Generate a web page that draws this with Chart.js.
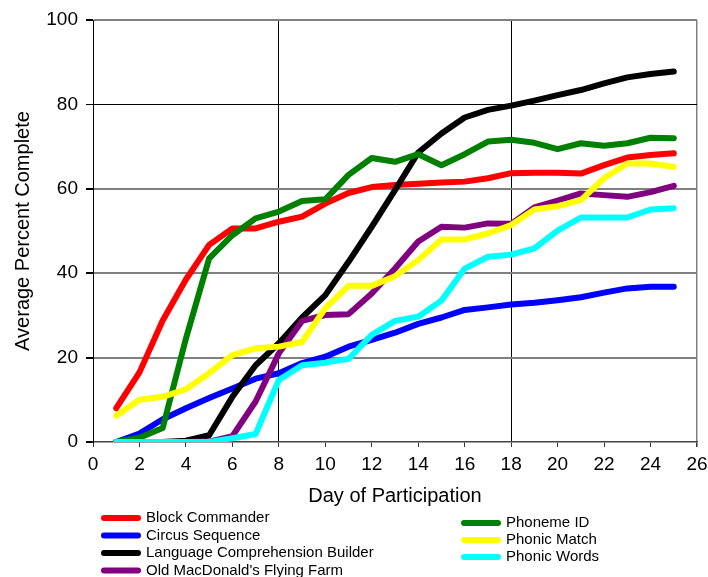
<!DOCTYPE html>
<html>
<head>
<meta charset="utf-8">
<script src="https://cdn.jsdelivr.net/npm/chart.js@4/dist/chart.umd.min.js"></script>
<style>
  html, body { margin: 0; padding: 0; background: #fff; }
  #wrap { width: 708px; height: 577px; position: relative; }
</style>
</head>
<body>
<div id="wrap"><canvas id="c" width="708" height="577"></canvas></div>
<script>
const days = [1,2,3,4,5,6,7,8,9,10,11,12,13,14,15,16,17,18,19,20,21,22,23,24,25];
const xTicks = [0,2,4,6,8,10,12,14,16,18,20,22,24,26];
const yTicks = [0,20,40,60,80,100];

const seriesNames = ["Block Commander","Circus Sequence","Language Comprehension Builder","Old MacDonald's Flying Farm","Phoneme ID","Phonic Match","Phonic Words"];
const seriesColors = ["#FF0000","#0000FF","#000000","#800080","#008000","#FFFF00","#00FFFF"];

const blockCommander = [8, 16.5, 28.8, 38.5, 46.7, 50.6, 50.6, 52.2, 53.4, 56.5, 59, 60.4, 60.9, 61.2, 61.5, 61.7, 62.5, 63.7, 63.8, 63.8, 63.6, 65.6, 67.4, 68, 68.4];
const circusSequence = [0, 2, 5.4, 8, 10.4, 12.7, 15, 16.3, 18.7, 20.2, 22.6, 24.2, 25.9, 28, 29.5, 31.3, 31.9, 32.6, 33, 33.6, 34.3, 35.4, 36.4, 36.8, 36.8];
const languageComp = [0, 0, 0, 0.3, 1.6, 10.7, 18.2, 23.4, 29.5, 34.8, 42.7, 51, 59.7, 68.6, 73.1, 76.9, 78.7, 79.7, 80.9, 82.2, 83.4, 85, 86.4, 87.2, 87.8];
const oldMacDonald = [0, 0, 0, 0, 0.1, 1.4, 9.6, 21, 28.7, 30.1, 30.3, 35.2, 41.1, 47.5, 51, 50.8, 51.8, 51.7, 55.6, 57.2, 58.9, 58.5, 58.1, 59.2, 60.7];
const phonemeID = [0, 1, 3.3, 24.5, 43.5, 49, 53, 54.6, 57.1, 57.5, 63.3, 67.3, 66.4, 68.2, 65.6, 68.2, 71.2, 71.6, 70.9, 69.4, 70.8, 70.2, 70.8, 72.1, 72];
const phonicMatch = [6.2, 10, 10.7, 12.5, 16.3, 20.6, 22.2, 22.6, 23.7, 31.7, 37, 37, 39.3, 43.1, 48, 48, 49.4, 51.4, 55.1, 55.9, 57.3, 62.5, 66, 66, 65.2];
const phonicWords = [0, 0, 0, 0, 0, 0.9, 1.9, 14.7, 18.2, 18.8, 19.7, 25.4, 28.7, 29.7, 33.5, 41.1, 43.9, 44.4, 45.9, 50.1, 53.2, 53.2, 53.2, 55.1, 55.4];

const allSeries = [blockCommander, circusSequence, languageComp, oldMacDonald, phonemeID, phonicMatch, phonicWords];

const FONT = "'Liberation Sans', Arial, sans-serif";

const datasets = allSeries.map((vals, i) => ({
  label: seriesNames[i],
  data: days.map((d, k) => ({x: d, y: vals[k]})),
  borderColor: seriesColors[i],
  backgroundColor: seriesColors[i],
  borderWidth: 6,
  pointRadius: 0,
  tension: 0,
  fill: false,
  borderCapStyle: 'round',
  borderJoinStyle: 'round',
  order: allSeries.length - i
}));

const legendPlugin = {
  id: 'customLegend',
  afterDraw(chart) {
    const ctx = chart.ctx;
    ctx.save();
    ctx.font = "15px " + FONT;
    ctx.textBaseline = 'middle';
    ctx.textAlign = 'left';
    const leftRows = [518, 535.5, 553, 570.5];
    const rightRows = [523, 540, 557];
    chart.data.datasets.forEach((ds, i) => {
      let lx, tx, y;
      if (i < 4) { lx = 101; tx = 146; y = leftRows[i]; }
      else { lx = 461; tx = 506; y = rightRows[i - 4]; }
      ctx.strokeStyle = ds.borderColor;
      ctx.lineWidth = 6;
      ctx.lineCap = 'round';
      ctx.beginPath();
      ctx.moveTo(lx + 3, y);
      ctx.lineTo(lx + 37, y);
      ctx.stroke();
      ctx.fillStyle = '#000';
      ctx.fillText(ds.label, tx, y);
    });
    ctx.restore();
  }
};

new Chart(document.getElementById('c'), {
  type: 'line',
  data: { datasets },
  plugins: [legendPlugin],
  options: {
    responsive: false,
    animation: false,
    events: [],
    layout: { padding: { left: 0, top: 20, right: 11, bottom: 69 } },
    plugins: { legend: { display: false }, tooltip: { enabled: false } },
    scales: {
      x: {
        type: 'linear',
        min: 0, max: 26,
        afterBuildTicks(scale) { scale.ticks = xTicks.map(v => ({value: v})); },
        afterFit(scale) { scale.height = 66; scale.paddingRight = 0; scale.paddingLeft = 0; },
        ticks: { color: '#000', font: { family: FONT, size: 19 }, padding: 6, maxRotation: 0, autoSkip: false },
        grid: {
          color: ctx => (ctx.tick && (ctx.tick.value === 8 || ctx.tick.value === 18)) ? '#000' : (ctx.tick && ctx.tick.value === 26 ? '#808080' : 'rgba(0,0,0,0)'),
          lineWidth: ctx => (ctx.tick && ctx.tick.value === 26) ? 1.5 : 1,
          tickColor: '#333',
          tickLength: 5,
          drawTicks: true
        },
        border: { color: '#444', width: 1.5 },
        title: { display: true, text: 'Day of Participation', color: '#000', font: { family: FONT, size: 20 }, padding: { top: 0, bottom: 0 } }
      },
      y: {
        min: 0, max: 100,
        afterBuildTicks(scale) { scale.ticks = yTicks.map(v => ({value: v})); },
        afterFit(scale) { scale.width = 93; scale.paddingTop = 0; scale.paddingBottom = 0; },
        ticks: { color: '#000', font: { family: FONT, size: 19 }, padding: 8 },
        grid: {
          color: ctx => (ctx.tick && ctx.tick.value === 80) ? '#000' : (ctx.tick && ctx.tick.value === 0 ? 'rgba(0,0,0,0)' : '#808080'),
          lineWidth: ctx => (ctx.tick && ctx.tick.value === 80) ? 1 : 2,
          tickColor: '#000',
          tickLength: 7
        },
        border: { color: '#000', width: 1 },
        title: { display: true, text: 'Average Percent Complete', color: '#000', font: { family: FONT, size: 20 }, padding: { top: 11, bottom: 0 } }
      }
    }
  }
});
</script>
</body>
</html>
